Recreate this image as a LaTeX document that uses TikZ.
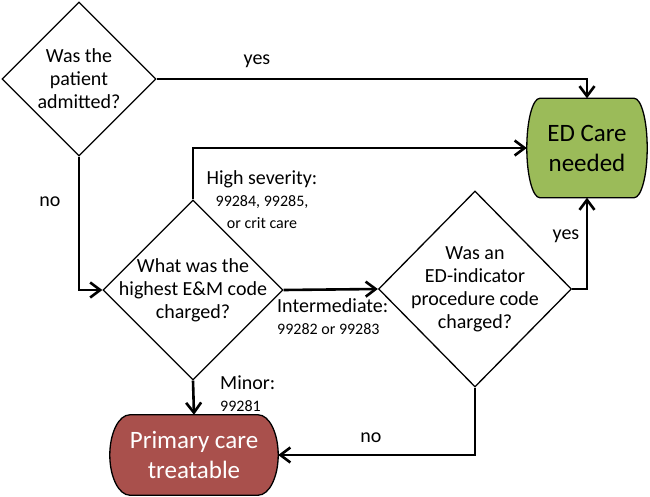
\documentclass[tikz,border=0pt]{standalone}
\usepackage{fontspec}
\setmainfont{Carlito}
\usetikzlibrary{shapes.geometric,arrows.meta,backgrounds}

\definecolor{edgreen}{HTML}{9BBB59}
\definecolor{pcred}{HTML}{A9504C}
\newcommand{\codesize}{\fontsize{16}{19}\selectfont}
% outline with flat top and bottom and bulging sides:
% node, inset, control inset, control rise, fill
\newcommand{\capsule}[5]{%
  \draw[line width=1.3pt, fill=#5] ([xshift=#2]#1.north west) -- ([xshift=-#2]#1.north east)
    .. controls ([xshift=-#3]#1.north east) and ([yshift=#4]#1.east) .. (#1.east)
    .. controls ([yshift=-#4]#1.east) and ([xshift=-#3]#1.south east) .. ([xshift=-#2]#1.south east)
    -- ([xshift=#2]#1.south west)
    .. controls ([xshift=#3]#1.south west) and ([yshift=-#4]#1.west) .. (#1.west)
    .. controls ([yshift=#4]#1.west) and ([xshift=#3]#1.north west) .. ([xshift=#2]#1.north west)
    -- cycle;}

\tikzset{
  decision/.style={diamond, draw, line width=1.3pt, inner sep=0pt},
  qtext/.style={font=\fontsize{20}{23}\selectfont, align=center},
  outcome/.style={rectangle, inner sep=0pt, align=center, font=\fontsize{25}{30}\selectfont},
  conn/.style={line width=2.6pt, -{Straight Barb[length=10pt,width=15pt]}},
  lbl/.style={font=\fontsize{20}{22}\selectfont, align=center, inner sep=0pt}
}

\begin{document}
\begin{tikzpicture}[x=1pt, y=-1pt]
  \useasboundingbox (0,0) rectangle (650,497);
  % Questions
  \node[decision, minimum width=154, minimum height=154,
        label={[qtext]center:Was the\\patient\\admitted?}] (admit) at (79,79) {};
  \node[decision, minimum width=180, minimum height=180,
        label={[qtext]center:What was the\\highest E\&M code\\charged?}] (em) at (193,290) {};
  \node[decision, minimum width=193, minimum height=196,
        label={[qtext]center:Was an\\ED-indicator\\procedure code\\charged?}] (proc) at (475,289) {};
  % Outcomes
  \node[outcome, minimum width=120, minimum height=99] (ed) at (587,148) {ED Care\\needed};
  \node[outcome, text=white, minimum width=168, minimum height=80] (pc) at (194,455) {Primary care\\treatable};
  \begin{pgfonlayer}{background}
    \capsule{ed}{13}{6}{28}{edgreen}
    \capsule{pc}{20}{9}{22}{pcred}
  \end{pgfonlayer}
  % Branch labels
  \node[lbl] (yesadmit) at (257,61) {yes};
  \node[lbl] (noadmit) at (50,202) {no};
  \node[lbl] (high) at (262,200) {High severity:\\\codesize 99284, 99285,\\\codesize or crit care};
  \node[lbl, align=left, anchor=north west] (inter) at (277,298) {Intermediate:\\\codesize 99282 or 99283};
  \node[lbl, align=left, anchor=north west] (minor) at (220,376) {Minor:\\\codesize 99281};
  \node[lbl] (yesproc) at (566,236) {yes};
  \node[lbl] (noproc) at (371,438) {no};
  % Connectors
  \draw[conn] (admit.east) -| (ed.north);
  \draw[conn] (admit.south) |- (em.west);
  \draw[conn] (em.north) |- (ed.west);
  \draw[conn] (em.east) -- (proc.west);
  \draw[conn] (em.south) -- (pc.north);
  \draw[conn] (proc.east) -| (ed.south);
  \draw[conn] (proc.south) |- (pc.east);
\end{tikzpicture}
\end{document}
